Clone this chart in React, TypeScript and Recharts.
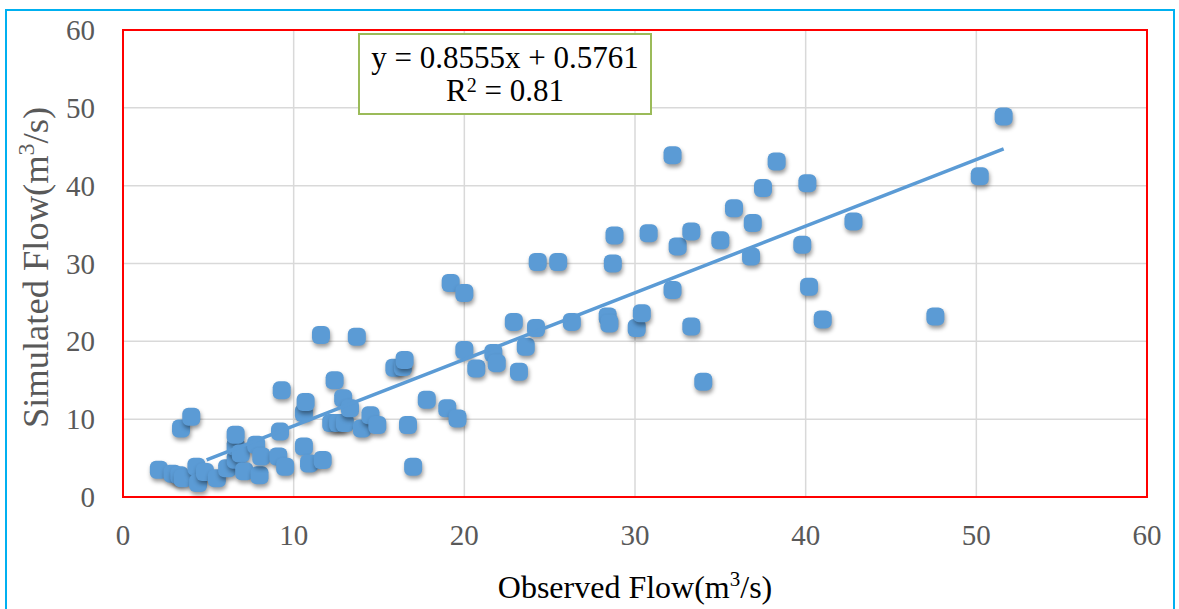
import { ScatterChart, Scatter, XAxis, YAxis, CartesianGrid, ReferenceArea } from "recharts"

const observed = [
  2.1, 2.9, 3.3, 3.5, 3.4, 4.0, 4.3, 4.4, 4.8, 5.5, 6.1, 6.6, 6.6, 6.6, 6.9, 7.1, 7.8, 8.0, 8.1, 9.1,
  9.2, 9.3, 9.5, 10.6, 10.6, 10.7, 10.9, 11.7, 11.6, 12.2, 12.6, 13.0, 12.4, 12.9, 13.3, 13.7, 14.0, 14.5,
  14.9, 15.9, 16.4, 16.5, 16.7, 17.0, 17.8, 19.0, 19.6, 19.2, 20.0, 20.0, 20.7, 21.7, 21.9, 22.9, 23.2,
  23.6, 24.2, 24.3, 25.5, 26.3, 28.4, 28.5, 28.7, 28.8, 30.1, 30.4, 30.8, 32.2, 32.2, 32.5, 33.3, 33.3,
  34.0, 35.0, 35.8, 36.8, 36.9, 37.5, 38.3, 39.8, 40.1, 40.2, 41.0, 42.8, 47.6, 50.2, 51.6,
]
const simulated = [
  3.5, 3.0, 2.8, 2.4, 8.8, 10.3, 3.9, 1.8, 3.2, 2.4, 3.7, 4.8, 6.5, 8.0, 5.6, 3.3, 6.7, 2.8, 5.2, 5.2,
  8.4, 13.7, 3.9, 6.5, 10.8, 12.2, 4.3, 4.75, 20.8, 9.5, 9.5, 9.5, 15.0, 12.7, 11.4, 20.6, 8.8, 10.5,
  9.25, 16.6, 16.7, 17.6, 9.25, 3.9, 12.5, 11.4, 10.1, 27.5, 26.2, 18.9, 16.5, 18.5, 17.2, 22.5, 16.1,
  19.3, 21.7, 30.2, 30.2, 22.5, 23.2, 22.3, 30.0, 33.6, 21.7, 23.6, 33.9, 26.6, 43.9, 32.2, 34.1, 21.9,
  14.8, 33.0, 37.1, 30.9, 35.2, 39.7, 43.1, 32.4, 40.3, 27.0, 22.8, 35.4, 23.2, 41.2, 48.9,
]
const ticks = [0, 10, 20, 30, 40, 50, 60]

const slope = 0.8555
const intercept = 0.5761
const trendX = [4.9, 51.6]

const points = observed.map((x, i) => ({ x, y: simulated[i] }))
const trend = trendX.map((x) => ({ x, y: slope * x + intercept }))

const serif = "'Liberation Serif', 'Times New Roman', serif"
const blue = "#5B9BD5"

const Marker = (props: any) => {
  const { cx, cy } = props
  return (
    <rect
      x={cx - 9}
      y={cy - 9}
      width={18}
      height={18}
      rx={6}
      fill={blue}
      style={{ filter: "drop-shadow(1px 3px 2px rgba(0,0,0,0.4))" }}
    />
  )
}

const renderXTick = (props: any) => {
  const { x, y, payload } = props
  return (
    <text
      x={x}
      y={y + 20}
      textAnchor="middle"
      style={{ fontFamily: serif, fontSize: 29, fill: "#595959" }}
    >
      {payload.value}
    </text>
  )
}

const renderYTick = (props: any) => {
  const { x, y, payload } = props
  return (
    <text
      x={x}
      y={y + 10}
      textAnchor="end"
      style={{ fontFamily: serif, fontSize: 29, fill: "#595959" }}
    >
      {payload.value}
    </text>
  )
}

const XTitle = (props: any) => {
  const { viewBox } = props
  const cx = viewBox.x + viewBox.width / 2
  return (
    <text x={cx} y={598} textAnchor="middle" fontFamily={serif} fontSize={32} fill="#000">
      Observed Flow(m<tspan dy={-12} fontSize={21}>3</tspan>
      <tspan dy={12}>/s)</tspan>
    </text>
  )
}

const YTitle = (props: any) => {
  const { viewBox } = props
  const cy = viewBox.y + viewBox.height / 2 + 4
  return (
    <text
      x={48}
      y={cy}
      transform={`rotate(-90, 48, ${cy})`}
      textAnchor="middle"
      fontFamily={serif}
      fontSize={36.5}
      fill="#595959"
    >
      Simulated Flow(m<tspan dy={-14} fontSize={24}>3</tspan>
      <tspan dy={14}>/s)</tspan>
    </text>
  )
}

export default function App() {
  return (
    <div
      style={{
        position: "absolute",
        left: 0,
        top: 0,
        width: 1179,
        height: 609,
        background: "#fff",
        fontFamily: serif,
      }}
    >
      <div
        style={{
          position: "absolute",
          left: 5,
          top: 9,
          width: 1166,
          height: 640,
          border: "2.5px solid #00B0F0",
        }}
      />
      <ScatterChart
        width={1179}
        height={609}
        margin={{ top: 30, right: 32, bottom: 0, left: 0 }}
        style={{ fontFamily: serif }}
      >
        <CartesianGrid stroke="#D9D9D9" strokeWidth={1.5} />
        <XAxis
          type="number"
          dataKey="x"
          domain={[0, 60]}
          ticks={ticks}
          axisLine={false}
          tickLine={false}
          tickSize={0}
          tickMargin={28}
          height={112}
          tick={renderXTick}
          label={<XTitle />}
        />
        <YAxis
          type="number"
          dataKey="y"
          domain={[0, 60]}
          ticks={ticks}
          axisLine={false}
          tickLine={false}
          tickSize={0}
          tickMargin={28}
          width={123}
          tick={renderYTick}
          label={<YTitle />}
        />
        <ReferenceArea x1={0} x2={60} y1={0} y2={60} fill="none" stroke="#FF0000" strokeWidth={2} />
        <Scatter data={points} shape={<Marker />} isAnimationActive={false} />
        <Scatter
          data={trend}
          line={{ stroke: blue, strokeWidth: 3.5 }}
          shape={() => <g />}
          isAnimationActive={false}
        />
      </ScatterChart>
      <div
        style={{
          position: "absolute",
          left: 358,
          top: 33,
          width: 290,
          height: 72,
          border: "2px solid #9BBB59",
          background: "#fff",
          fontFamily: serif,
          fontSize: 31,
          lineHeight: "33px",
          color: "#000",
          textAlign: "center",
          paddingTop: 6,
          boxSizing: "content-box",
        }}
      >
        <div>y = 0.8555x + 0.5761</div>
        <div>
          R<span style={{ fontSize: 20, position: "relative", top: -9 }}>2</span> = 0.81
        </div>
      </div>
    </div>
  )
}
